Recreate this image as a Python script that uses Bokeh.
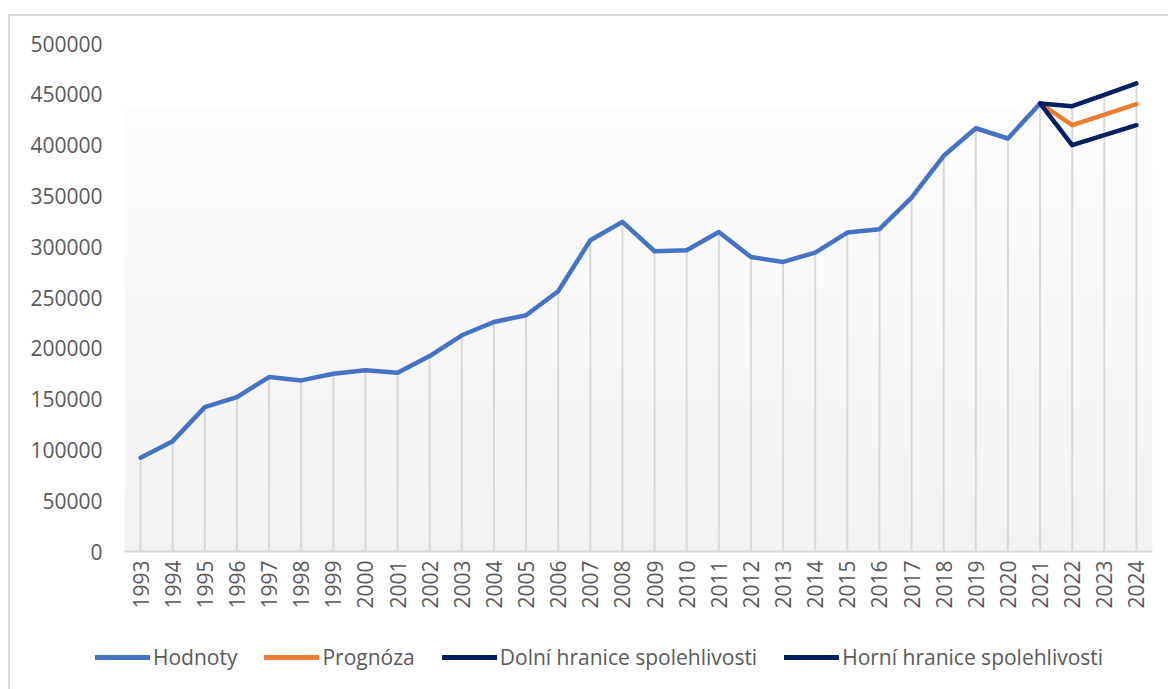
import math
import numpy as np
from bokeh.plotting import figure
from bokeh.layouts import column
from bokeh.models import FixedTicker, BasicTickFormatter, Legend, LegendItem, Range1d
from bokeh.embed import file_html
from bokeh.resources import INLINE

# ---- data ----
years = [1993, 1994, 1995, 1996, 1997, 1998, 1999, 2000, 2001, 2002,
         2003, 2004, 2005, 2006, 2007, 2008, 2009, 2010, 2011, 2012,
         2013, 2014, 2015, 2016, 2017, 2018, 2019, 2020, 2021]
hodnoty = [92300, 108600, 142100, 152000, 171700, 168400, 175000, 178300, 176000, 192400,
           212800, 225900, 232500, 256100, 306300, 324400, 295500, 296500, 314500, 289800,
           285000, 294200, 313900, 317200, 348300, 389500, 416600, 406500, 441000]
fc_years = [2021, 2022, 2023, 2024]
prognoza = [441000, 419600, 430000, 440300]
dolni = [441000, 399900, 409800, 419600]
horni = [441000, 438300, 449500, 460700]
y_ticks = [0, 50000, 100000, 150000, 200000, 250000, 300000, 350000, 400000, 450000, 500000]
series_names = ["Hodnoty", "Prognóza", "Dolní hranice spolehlivosti", "Horní hranice spolehlivosti"]
series_colors = ["#4472C4", "#ED7D31", "#002060", "#002060"]

FONT = "Open Sans"
TXT = "#595959"
LW = 4.5

p = figure(width=1158, height=600, output_backend="svg", toolbar_location=None,
           x_range=Range1d(1992.5, 2024.5), y_range=Range1d(0, 500000),
           min_border_left=114, min_border_right=16, min_border_top=27, min_border_bottom=65)
p.frame_align = False
p.outline_line_color = None
p.background_fill_color = "white"
p.border_fill_color = "white"
p.xgrid.visible = False
p.ygrid.visible = False

# gradient background of the plot area
N = 80
img = np.zeros((N, 1), dtype=np.uint32)
view = img.view(dtype=np.uint8).reshape((N, 1, 4))
for i in range(N):
    t = i / (N - 1)  # 0 bottom -> 1 top
    c = int(round(0xf2 + (0xfd - 0xf2) * t))
    view[i, 0, 0] = c
    view[i, 0, 1] = c
    view[i, 0, 2] = c
    view[i, 0, 3] = 255
p.image_rgba(image=[img], x=1992.5, y=0, dw=32, dh=435400)

# drop lines
all_years = years + fc_years[1:]
tops = {y: v for y, v in zip(years, hodnoty)}
for series in (prognoza, dolni, horni):
    for y, v in zip(fc_years, series):
        tops[y] = max(tops.get(y, 0), v)
p.segment(x0=all_years, y0=[0] * len(all_years), x1=all_years,
          y1=[tops[y] for y in all_years], line_color="#d9d9d9", line_width=2)

p.line(years, hodnoty, line_color=series_colors[0], line_width=LW, line_join="round", line_cap="round")
p.line(fc_years, prognoza, line_color=series_colors[1], line_width=LW, line_join="round", line_cap="round")
p.line(fc_years, dolni, line_color=series_colors[2], line_width=LW, line_join="round", line_cap="round")
p.line(fc_years, horni, line_color=series_colors[3], line_width=LW, line_join="round", line_cap="round")

# axes
p.yaxis.ticker = FixedTicker(ticks=y_ticks)
p.yaxis.formatter = BasicTickFormatter(use_scientific=False)
p.yaxis.axis_line_color = None
p.yaxis.major_tick_line_color = None
p.yaxis.minor_tick_line_color = None
p.yaxis.major_tick_out = 0
p.yaxis.major_label_standoff = 22
p.yaxis.major_label_text_font = FONT
p.yaxis.major_label_text_font_size = "21px"
p.yaxis.major_label_text_color = TXT

p.xaxis.ticker = FixedTicker(ticks=all_years)
p.xaxis.formatter = BasicTickFormatter(use_scientific=False)
p.xaxis.axis_line_color = "#d9d9d9"
p.xaxis.axis_line_width = 2
p.xaxis.major_tick_line_color = None
p.xaxis.minor_tick_line_color = None
p.xaxis.major_tick_out = 0
p.xaxis.major_label_standoff = 9
p.xaxis.major_label_orientation = math.pi / 2
p.xaxis.major_label_text_font = FONT
p.xaxis.major_label_text_font_size = "21px"
p.xaxis.major_label_text_color = TXT

# legend strip (separate figure under the chart)
lg = figure(width=1158, height=73, output_backend="svg", toolbar_location=None,
            x_range=Range1d(0, 1), y_range=Range1d(0, 1),
            min_border_left=0, min_border_right=0, min_border_top=0, min_border_bottom=0)
lg.frame_align = False
lg.axis.visible = False
lg.grid.visible = False
lg.outline_line_color = None
lg.background_fill_color = "white"
lg.border_fill_color = "white"
items = []
for name, col in zip(series_names, series_colors):
    # legend-only renderer: its points lie outside the visible range
    r = lg.line([-5, -4], [-5, -4], line_color=col, line_width=LW + 0.5, line_cap="round")
    items.append(LegendItem(label=name, renderers=[r]))
legend = Legend(items=items, orientation="horizontal", location=(85, 18),
                padding=0, margin=0, spacing=27, label_standoff=3,
                glyph_width=55, glyph_height=22, label_height=22,
                label_text_font=FONT, label_text_font_size="21px",
                label_text_color=TXT, border_line_color=None,
                background_fill_alpha=0)
lg.add_layout(legend, "center")

layout = column(p, lg, spacing=0,
                styles={"border-top": "2px solid #d9d9d9", "border-left": "2px solid #d9d9d9",
                        "margin-top": "14px", "margin-left": "8px"})

open("out.html", "w").write(file_html(layout, INLINE))
